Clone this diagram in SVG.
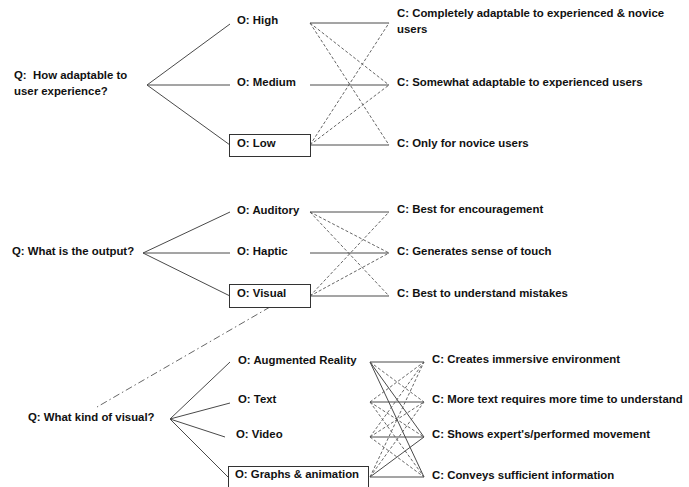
<svg xmlns="http://www.w3.org/2000/svg" width="689" height="487" viewBox="0 0 689 487">
<style>
text{font-family:"Liberation Sans",Arial,sans-serif;font-size:11.4px;font-weight:bold;fill:#111;white-space:pre}
.s{stroke:#4a4a4a;stroke-width:1;fill:none}
.d{stroke:#555;stroke-width:0.9;stroke-dasharray:3,2;fill:none}
.dd{stroke:#555;stroke-width:0.9;stroke-dasharray:7,3,1.5,3;fill:none}
.box{fill:#fff;stroke:#333;stroke-width:1}
</style>
<rect width="689" height="487" fill="#fff"/>
<g id="connectors">
<line class="s" x1="147" y1="85" x2="230" y2="24"/>
<line class="s" x1="147" y1="85" x2="230" y2="85"/>
<line class="s" x1="147" y1="85" x2="230" y2="145"/>
<line class="s" x1="310" y1="23" x2="389" y2="23"/>
<line class="s" x1="310" y1="85" x2="389" y2="85"/>
<line class="s" x1="310" y1="145" x2="389" y2="145"/>
<line class="d" x1="310" y1="23" x2="389" y2="85"/>
<line class="d" x1="310" y1="23" x2="389" y2="145"/>
<line class="d" x1="310" y1="145" x2="389" y2="23"/>
<line class="d" x1="310" y1="145" x2="389" y2="85"/>
<line class="s" x1="143" y1="253" x2="230" y2="212"/>
<line class="s" x1="143" y1="253" x2="230" y2="253"/>
<line class="s" x1="143" y1="253" x2="230" y2="296"/>
<line class="s" x1="310" y1="212" x2="389" y2="212"/>
<line class="s" x1="310" y1="253" x2="389" y2="253"/>
<line class="s" x1="310" y1="296" x2="389" y2="296"/>
<line class="d" x1="310" y1="212" x2="389" y2="253"/>
<line class="d" x1="310" y1="212" x2="389" y2="296"/>
<line class="d" x1="310" y1="296" x2="389" y2="212"/>
<line class="d" x1="310" y1="296" x2="389" y2="253"/>
<line class="dd" x1="270" y1="307" x2="97" y2="407"/>
<line class="s" x1="170" y1="419" x2="230" y2="362"/>
<line class="s" x1="170" y1="419" x2="230" y2="403"/>
<line class="s" x1="170" y1="419" x2="225" y2="437"/>
<line class="s" x1="170" y1="419" x2="228" y2="477"/>
<line class="s" x1="370" y1="362" x2="424" y2="362"/>
<line class="s" x1="370" y1="402" x2="424" y2="402"/>
<line class="s" x1="370" y1="437" x2="424" y2="437"/>
<line class="s" x1="370" y1="477" x2="424" y2="477"/>
<line class="s" x1="370" y1="362" x2="424" y2="437"/>
<line class="s" x1="370" y1="362" x2="424" y2="477"/>
<line class="s" x1="370" y1="477" x2="424" y2="437"/>
<line class="d" x1="370" y1="362" x2="424" y2="402"/>
<line class="d" x1="370" y1="402" x2="424" y2="362"/>
<line class="d" x1="370" y1="402" x2="424" y2="437"/>
<line class="d" x1="370" y1="402" x2="424" y2="477"/>
<line class="d" x1="370" y1="437" x2="424" y2="362"/>
<line class="d" x1="370" y1="437" x2="424" y2="402"/>
<line class="d" x1="370" y1="437" x2="424" y2="477"/>
<line class="d" x1="370" y1="477" x2="424" y2="362"/>
<line class="d" x1="370" y1="477" x2="424" y2="402"/>
</g>
<g id="q-adaptable"><text x="14" y="79">Q:  How adaptable to</text><text x="14" y="95">user experience?</text></g>
<g id="o-high"><text x="237" y="24">O: High</text></g>
<g id="o-medium"><text x="237" y="86">O: Medium</text></g>
<g id="o-low"><rect class="box" x="229.5" y="134.5" width="81" height="22"/><text x="237" y="147">O: Low</text></g>
<g id="c-completely"><text x="397" y="17">C: Completely adaptable to experienced &amp; novice</text><text x="397" y="33">users</text></g>
<g id="c-somewhat"><text x="397" y="86">C: Somewhat adaptable to experienced users</text></g>
<g id="c-novice"><text x="397" y="147">C: Only for novice users</text></g>
<g id="q-output"><text x="12" y="255">Q: What is the output?</text></g>
<g id="o-auditory"><text x="237" y="214">O: Auditory</text></g>
<g id="o-haptic"><text x="237" y="255">O: Haptic</text></g>
<g id="o-visual"><rect class="box" x="229.5" y="284.5" width="81" height="23"/><text x="237" y="297">O: Visual</text></g>
<g id="c-encouragement"><text x="397" y="213">C: Best for encouragement</text></g>
<g id="c-touch"><text x="397" y="255">C: Generates sense of touch</text></g>
<g id="c-mistakes"><text x="397" y="297">C: Best to understand mistakes</text></g>
<g id="q-visual"><text x="28" y="421">Q: What kind of visual?</text></g>
<g id="o-ar"><text x="238" y="364">O: Augmented Reality</text></g>
<g id="o-text"><text x="238" y="403">O: Text</text></g>
<g id="o-video"><text x="236" y="438">O: Video</text></g>
<g id="o-graphs"><rect class="box" x="228.5" y="466.5" width="140" height="24"/><text x="235" y="478">O: Graphs &amp; animation</text></g>
<g id="c-immersive"><text x="432" y="363">C: Creates immersive environment</text></g>
<g id="c-moretext"><text x="432" y="403">C: More text requires more time to understand</text></g>
<g id="c-movement"><text x="432" y="438">C: Shows expert's/performed movement</text></g>
<g id="c-sufficient"><text x="432" y="479">C: Conveys sufficient information</text></g>
</svg>
